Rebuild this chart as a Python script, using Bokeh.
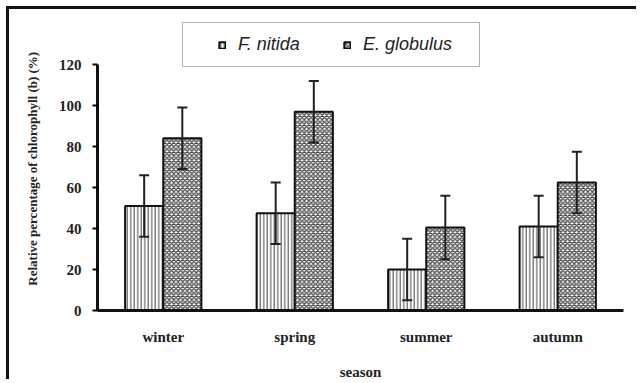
from bokeh.plotting import figure
from bokeh.models import (ColumnDataSource, FactorRange, Range1d, FixedTicker, Whisker,
                          TeeHead, Legend, LegendItem)
from bokeh.transform import dodge
from bokeh.embed import file_html
from bokeh.resources import INLINE

seasons = ["winter", "spring", "summer", "autumn"]
f_nitida = [51, 47.5, 20, 41]
f_nitida_err = [15, 15, 15, 15]
e_globulus = [84, 97, 40.5, 62.5]
e_globulus_err = [15, 15, 15.5, 15]
y_ticks = [0, 20, 40, 60, 80, 100, 120]
series_names = ["F. nitida", "E. globulus"]

src = ColumnDataSource(dict(
    season=seasons,
    f=f_nitida,
    f_up=[v + e for v, e in zip(f_nitida, f_nitida_err)],
    f_lo=[v - e for v, e in zip(f_nitida, f_nitida_err)],
    e=e_globulus,
    e_up=[v + e for v, e in zip(e_globulus, e_globulus_err)],
    e_lo=[v - e for v, e in zip(e_globulus, e_globulus_err)],
))

# frame geometry (px): axis part 246 px tall for 0..120, frame extends above for the legend
W, H = 630, 373
frame_h = 290
axis_h = 246
y_end = y_ticks[-1] * frame_h / axis_h

p = figure(x_range=FactorRange(*seasons, range_padding=0), y_range=Range1d(0, y_end),
           width=W, height=H, output_backend="svg", toolbar_location=None,
           min_border_left=88, min_border_right=16, min_border_top=H - 72 - frame_h,
           min_border_bottom=72)
p.styles = {"border-left": "3px solid #111", "border-top": "3px solid #111",
            "margin-left": "6px", "margin-top": "6px"}
p.x_range.range_padding = 0
p.xgrid.visible = False
p.ygrid.visible = False
p.outline_line_color = None
p.background_fill_color = "white"
p.border_fill_color = "white"

bw = 0.29
r1 = p.vbar(x=dodge("season", -bw / 2, range=p.x_range), top="f", width=bw, source=src,
            fill_color="white", line_color="#111", line_width=2,
            hatch_pattern="vertical_line", hatch_color="#444", hatch_scale=3.5, hatch_weight=1)
r2 = p.vbar(x=dodge("season", bw / 2, range=p.x_range), top="e", width=bw, source=src,
            fill_color="white", line_color="#111", line_width=2,
            hatch_pattern="diagonal_cross", hatch_color="#444", hatch_scale=4.5, hatch_weight=1.3)

for key, off in (("f", -bw / 2), ("e", bw / 2)):
    w = Whisker(base=dodge("season", off, range=p.x_range), upper=key + "_up", lower=key + "_lo",
                source=src, line_color="#222", line_width=2, level="overlay",
                upper_head=TeeHead(size=10, line_color="#222", line_width=2),
                lower_head=TeeHead(size=10, line_color="#222", line_width=2))
    p.add_layout(w)

serif = "Liberation Serif"
p.yaxis.ticker = FixedTicker(ticks=y_ticks)
p.yaxis.bounds = (y_ticks[0], y_ticks[-1])
p.yaxis.axis_line_width = 3
p.yaxis.axis_line_color = "#111"
p.yaxis.major_tick_out = 5
p.yaxis.major_tick_in = 0
p.yaxis.major_tick_line_width = 2
p.yaxis.minor_tick_line_color = None
p.yaxis.major_label_text_font = serif
p.yaxis.major_label_text_font_style = "bold"
p.yaxis.major_label_text_font_size = "15px"
p.yaxis.major_label_text_color = "#222"
p.yaxis.major_label_standoff = 11
p.yaxis.axis_label = "Relative percentage of  chlorophyll (b)  (%)"
p.yaxis.axis_label_text_font = serif
p.yaxis.axis_label_text_font_style = "bold"
p.yaxis.axis_label_text_font_size = "13px"
p.yaxis.axis_label_text_color = "#222"
p.yaxis.axis_label_standoff = 16

p.xaxis.axis_line_width = 3
p.xaxis.axis_line_color = "#111"
p.xaxis.major_tick_line_color = None
p.xaxis.major_tick_out = 0
p.xaxis.major_tick_in = 0
p.xaxis.minor_tick_line_color = None
p.xaxis.major_label_text_font = serif
p.xaxis.major_label_text_font_style = "bold"
p.xaxis.major_label_text_font_size = "15px"
p.xaxis.major_label_text_color = "#222"
p.xaxis.major_label_standoff = 18
p.xaxis.axis_label = "season"
p.xaxis.axis_label_text_font = serif
p.xaxis.axis_label_text_font_style = "bold"
p.xaxis.axis_label_text_font_size = "15px"
p.xaxis.axis_label_text_color = "#222"
p.xaxis.axis_label_standoff = 16

legend = Legend(items=[LegendItem(label=series_names[0], renderers=[r1]),
                       LegendItem(label=series_names[1], renderers=[r2])],
                orientation="horizontal", location=(85, 243),
                title=" ", title_location="left", title_text_font_size="8px", title_standoff=15,
                glyph_width=8, glyph_height=8, label_standoff=12, spacing=0,
                label_width=105, padding=11, margin=0,
                label_text_font="Liberation Sans", label_text_font_style="italic",
                label_text_font_size="18px", label_text_color="#222",
                border_line_color="#666", border_line_width=1.5,
                background_fill_color="white", background_fill_alpha=1)
p.add_layout(legend, "center")

open("out.html", "w").write(file_html(p, INLINE))
